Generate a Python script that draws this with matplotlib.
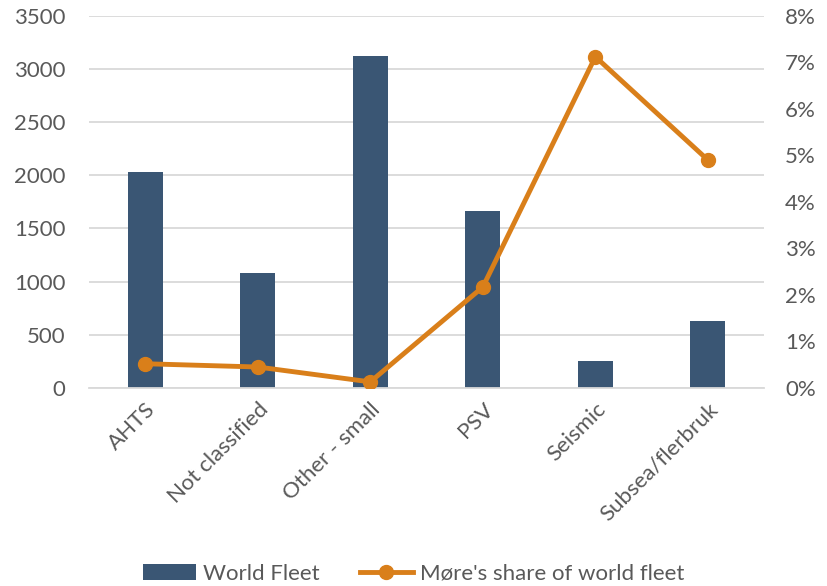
import matplotlib.pyplot as plt
from matplotlib.ticker import FuncFormatter, MultipleLocator

plt.rcParams['font.family'] = ['Lato', 'DejaVu Sans']

categories = ['AHTS', 'Not classified', 'Other - small', 'PSV', 'Seismic', 'Subsea/flerbruk']
world_fleet = [2030, 1080, 3120, 1660, 250, 630]
more_share = [0.52, 0.45, 0.13, 2.17, 7.12, 4.90]  # percent

bar_color = '#3A5674'
line_color = '#D97F1A'
text_color = '#595959'
grid_color = '#D9D9D9'

fig = plt.figure(figsize=(8.27, 5.86), dpi=100)
ax = fig.add_axes([0.1076, 0.338, 0.8164, 0.635])
ax2 = ax.twinx()

x = list(range(len(categories)))
bars = ax.bar(x, world_fleet, width=0.31, color=bar_color, label='World Fleet', zorder=2)
line, = ax2.plot(x, more_share, color=line_color, lw=3.5, marker='o', ms=10,
                 label="Møre's share of world fleet", zorder=3)

ax.set_xlim(-0.5, len(categories) - 0.5)
ax.set_ylim(0, 3500)
ax.yaxis.set_major_locator(MultipleLocator(500))
ax2.set_ylim(0, 8)
ax2.yaxis.set_major_locator(MultipleLocator(1))
ax2.yaxis.set_major_formatter(FuncFormatter(lambda v, p: f'{v:.0f}%'))

ax.grid(axis='y', color=grid_color, lw=1.3, zorder=0)
ax.set_axisbelow(True)
for a in (ax, ax2):
    for s in a.spines.values():
        s.set_visible(False)
    a.tick_params(length=0, labelsize=16, colors=text_color)
ax.spines['bottom'].set_visible(True)
ax.spines['bottom'].set_color(grid_color)
ax.spines['bottom'].set_linewidth(1.3)

ax.tick_params(axis='y', pad=17)
ax2.tick_params(axis='y', pad=15)
ax.set_xticks(x)
ax.set_xticklabels(categories, rotation=45, ha='right', rotation_mode='anchor')
ax.tick_params(axis='x', pad=8)

fig.legend([bars, line], ['World Fleet', "Møre's share of world fleet"],
           loc='lower center', bbox_to_anchor=(0.5, -0.03), ncol=2, frameon=False,
           fontsize=16, labelcolor=text_color, handlelength=2.4, columnspacing=1.8,
           handletextpad=0.3)

fig.savefig('out.png', dpi=100)
